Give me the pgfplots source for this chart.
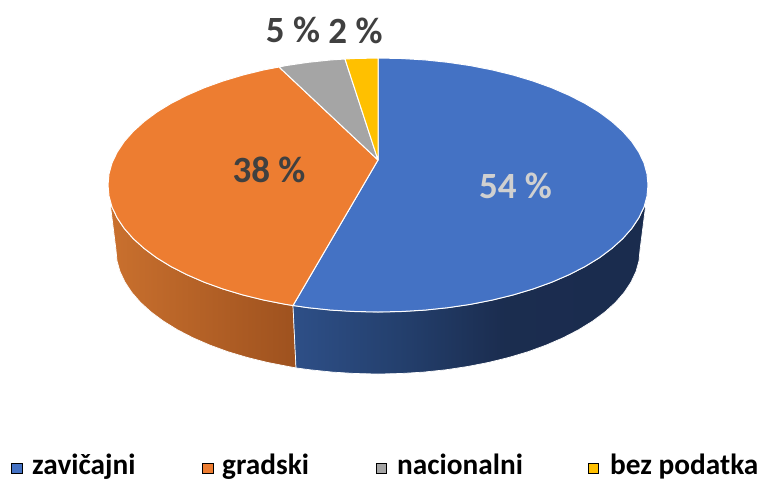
\documentclass[border=0pt]{standalone}
\usepackage{pgfplots}
\pgfplotsset{compat=1.18}
\usepackage{fontspec}
\setmainfont{Carlito}
\definecolor{zav}{HTML}{4472C4}
\definecolor{gra}{HTML}{ED7D31}
\definecolor{nac}{HTML}{A5A5A5}
\definecolor{bez}{HTML}{FFC000}
\definecolor{lab}{HTML}{404040}
\definecolor{lablight}{HTML}{D0D0D0}
% the sides of the pie get darker from left to right
\pgfdeclarehorizontalshading{orangeside}{100bp}{rgb(0bp)=(0.79,0.44,0.18); rgb(25bp)=(0.79,0.44,0.18); rgb(75bp)=(0.62,0.32,0.12); rgb(100bp)=(0.62,0.32,0.12)}
\pgfdeclarehorizontalshading{blueside}{100bp}{rgb(0bp)=(0.18,0.31,0.53); rgb(25bp)=(0.18,0.31,0.53); rgb(40bp)=(0.14,0.25,0.43); rgb(55bp)=(0.105,0.175,0.31); rgb(100bp)=(0.10,0.17,0.30)}
\newcommand{\lbl}[1]{\fontsize{37}{37}\selectfont\bfseries #1}
\newcommand{\leg}[1]{\fontsize{29.3}{29.3}\selectfont\bfseries #1}
\begin{document}
\begin{tikzpicture}
\path[use as bounding box] (0,0) rectangle (759pt,480pt);
\begin{axis}[
    scale only axis,
    width=759pt,
    height=480pt,
    xmin=0, xmax=759,
    ymin=0, ymax=480,
    y dir=reverse,
    hide axis,
    clip=false,
]
% orange side
\addplot[shade, shading=orangeside, draw=white, line width=0.7pt, line join=round] coordinates {
    (110,202) (112,207.1) (117.2,217.9) (124.2,228.4) (133.3,238.7) (144.2,248.5) (156.8,257.9)
    (171.2,266.7) (187.1,274.8) (204.4,282.3) (223,289) (243,295) (263.8,300.1) (285.7,304.4) (293,305.5)
    (296,367.9) (288.4,366.5) (267.3,362.4) (247,357.4) (227.6,351.6) (209.6,345) (192.8,337.7)
    (177.3,329.7) (163.4,321.1) (151.1,312) (140.5,302.4) (131.8,292.4) (125,282.1) (120,271.5)
    (117,260.8) (116,250)
} -- cycle;
% blue side
\addplot[shade, shading=blueside, draw=white, line width=0.7pt, line join=round] coordinates {
    (293,305.5) (308.1,307.7) (331,310.1) (354.5,311.5) (378,312) (401.5,311.5) (425,310.1) (447.9,307.7)
    (470.3,304.4) (492.2,300.1) (513,295) (533,289) (551.6,282.3) (568.9,274.8) (584.8,266.7) (599.2,257.9)
    (611.8,248.5) (622.7,238.7) (631.8,228.4) (638.8,217.9) (644,207.1) (646,203)
    (640,250) (639,260.8) (636,271.5) (631,282.1) (624.2,292.4) (615.5,302.4) (604.9,312) (592.6,321.1)
    (578.7,329.7) (563.2,337.7) (546.4,345) (528.4,351.6) (509,357.4) (488.7,362.4) (467.6,366.5)
    (445.8,369.8) (423.5,372.1) (400.8,373.5) (378,374) (355.2,373.5) (332.5,372.1) (310.2,369.8) (296,367.9)
} -- cycle;
% top face: zavicajni
\addplot[fill=zav, draw=white, line width=1pt, line join=round] coordinates {
    (378,160) (378,58) (401.5,58.5) (425,59.9) (447.9,62.3) (470.3,65.6) (492.2,69.9) (513,75) (533,81)
    (551.6,87.7) (568.9,95.2) (584.8,103.3) (599.2,112.1) (611.8,121.5) (622.7,131.3) (631.8,141.6)
    (638.8,152.1) (644,162.9) (647,173.9) (648,185) (647,196.1) (644,207.1) (638.8,217.9) (631.8,228.4)
    (622.7,238.7) (611.8,248.5) (599.2,257.9) (584.8,266.7) (568.9,274.8) (551.6,282.3) (533,289) (513,295)
    (492.2,300.1) (470.3,304.4) (447.9,307.7) (425,310.1) (401.5,311.5) (378,312) (354.5,311.5) (331,310.1)
    (308.1,307.7) (293,305.5)
} -- cycle;
% gradski
\addplot[fill=gra, draw=white, line width=1pt, line join=round] coordinates {
    (378,160) (293,305.5) (285.7,304.4) (263.8,300.1) (243,295) (223,289) (204.4,282.3) (187.1,274.8)
    (171.2,266.7) (156.8,257.9) (144.2,248.5) (133.3,238.7) (124.2,228.4) (117.2,217.9) (112,207.1)
    (109,196.1) (108,185) (109,173.9) (112,162.9) (117.2,152.1) (124.2,141.6) (133.3,131.3) (144.2,121.5)
    (156.8,112.1) (171.2,103.3) (187.1,95.2) (204.4,87.7) (223,81) (243,75) (263.8,69.9) (279,67)
} -- cycle;
% nacionalni
\addplot[fill=nac, draw=white, line width=1pt, line join=round] coordinates {
    (378,160) (279,67) (285.7,65.6) (308.1,62.3) (331,59.9) (345,59)
} -- cycle;
% bez podatka
\addplot[fill=bez, draw=white, line width=1pt, line join=round] coordinates {
    (378,160) (345,59) (354.5,58.5) (378,58)
} -- cycle;
% legend squares
\addplot[only marks, mark=square*, mark size=5.2pt, mark options={draw=none, fill=zav}] coordinates {(16.5,468)};
\addplot[only marks, mark=square*, mark size=5.2pt, mark options={draw=none, fill=gra}] coordinates {(207.5,468)};
\addplot[only marks, mark=square*, mark size=5.2pt, mark options={draw=none, fill=nac}] coordinates {(381,468)};
\addplot[only marks, mark=square*, mark size=5.2pt, mark options={draw=none, fill=bez}] coordinates {(593,468)};
% slice labels
\node[text=lablight, inner sep=0pt] at (axis cs:515.5,186) {\lbl{54 \%}};
\node[text=lab, inner sep=0pt] at (axis cs:269,170) {\lbl{38 \%}};
\node[text=lab, inner sep=0pt] at (axis cs:293,30) {\lbl{5 \%}};
\node[text=lab, inner sep=0pt] at (axis cs:355.5,31) {\lbl{2 \%}};
% legend text, kept just clear of the bottom edge
\node[anchor=base west, inner sep=0pt] at (axis cs:32,474) {\leg{zavičajni}};
\node[anchor=base west, inner sep=0pt] at (axis cs:222,474) {\leg{gradski}};
\node[anchor=base west, inner sep=0pt] at (axis cs:397,474) {\leg{nacionalni}};
\node[anchor=base west, inner sep=0pt] at (axis cs:610,474) {\leg{bez podatka}};
\end{axis}
\end{tikzpicture}
\end{document}
